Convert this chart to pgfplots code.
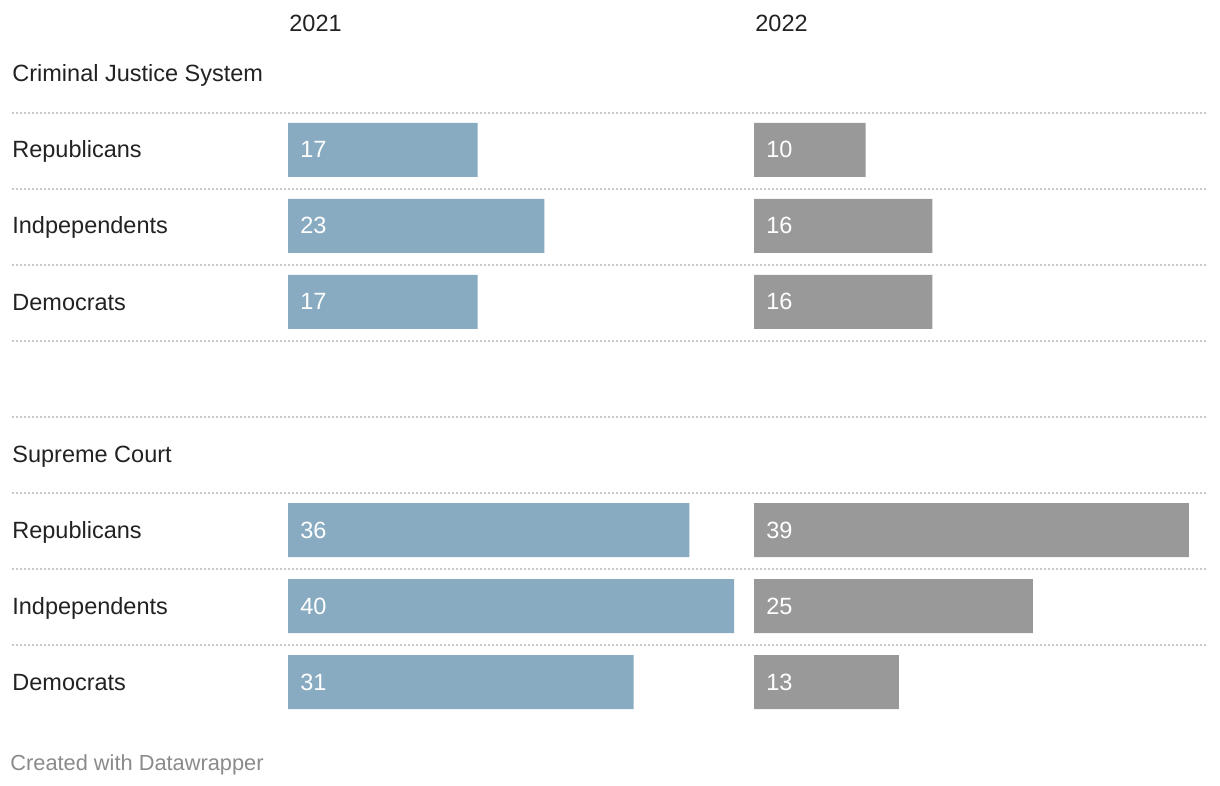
\documentclass[border=0pt]{standalone}
\usepackage{pgfplots}
\pgfplotsset{compat=1.18}
\usepackage{pgfplotstable}
\usepackage{fontspec}
\setmainfont{Liberation Sans}
\definecolor{barblue}{HTML}{88ABC2}
\definecolor{bargrey}{HTML}{999999}
\definecolor{txt}{HTML}{222222}
\definecolor{foot}{HTML}{8A8A8A}
\definecolor{gridc}{HTML}{C8C8C8}
\newlength\px
\setlength\px{0.5pt}
% y = row centre (pixels from top), v = value
\pgfplotstableread{
y v
150 17
226 23
302 17
530 36
606 40
682 31
}\colA
\pgfplotstableread{
y v
150 10
226 16
302 16
530 39
606 25
682 13
}\colB
\tikzset{lab/.style={anchor=base west, inner sep=0pt, text=txt}}
\begin{document}
\begin{tikzpicture}[font=\fontsize{11.75}{14}\selectfont]
\pgfplotsset{
  base/.style={scale only axis, height=786\px, ymin=0, ymax=786, y dir=reverse,
    hide axis, clip=false, anchor=south west},
  gridline/.style={gridc, line width=1.2\px, dash pattern=on 2\px off 2\px, forget plot},
}
\begin{axis}[base, at={(0,0)}, width=1220\px, xmin=0, xmax=1220]
  \path (axis cs:0,0) rectangle (axis cs:1220,786);
  \addplot[gridline] coordinates {(12,113) (1208,113)};
  \addplot[gridline] coordinates {(12,189) (1208,189)};
  \addplot[gridline] coordinates {(12,265) (1208,265)};
  \addplot[gridline] coordinates {(12,341) (1208,341)};
  \addplot[gridline] coordinates {(12,417) (1208,417)};
  \addplot[gridline] coordinates {(12,493) (1208,493)};
  \addplot[gridline] coordinates {(12,569) (1208,569)};
  \addplot[gridline] coordinates {(12,645) (1208,645)};
  \node[lab] at (axis cs:289,32) {2021};
  \node[lab] at (axis cs:755,32) {2022};
  \node[lab] at (axis cs:12,82) {Criminal Justice System};
  \node[lab] at (axis cs:12,158) {Republicans};
  \node[lab] at (axis cs:12,234) {Indpependents};
  \node[lab] at (axis cs:12,310) {Democrats};
  \node[lab] at (axis cs:12,462) {Supreme Court};
  \node[lab] at (axis cs:12,538) {Republicans};
  \node[lab] at (axis cs:12,614) {Indpependents};
  \node[lab] at (axis cs:12,690) {Democrats};
  \node[lab, text=foot, font=\fontsize{10.9}{13}\selectfont] at (axis cs:10,770) {Created with Datawrapper};
\end{axis}
\begin{axis}[base, at={(288\px,0)}, width=446\px, xmin=0, xmax=40]
  \addplot[xbar, fill=barblue, draw=none, bar width=54] table[x=v, y=y] {\colA};
  \addplot[draw=none, mark=none, point meta=explicit symbolic, nodes near coords,
    nodes near coords style={anchor=base west, inner sep=0pt, text=white, xshift=12\px, yshift=-8\px}]
    table[x expr=0, y=y, meta=v] {\colA};
\end{axis}
\begin{axis}[base, at={(754\px,0)}, width=446\px, xmin=0, xmax=40]
  \addplot[xbar, fill=bargrey, draw=none, bar width=54] table[x=v, y=y] {\colB};
  \addplot[draw=none, mark=none, point meta=explicit symbolic, nodes near coords,
    nodes near coords style={anchor=base west, inner sep=0pt, text=white, xshift=12\px, yshift=-8\px}]
    table[x expr=0, y=y, meta=v] {\colB};
\end{axis}
\end{tikzpicture}
\end{document}
